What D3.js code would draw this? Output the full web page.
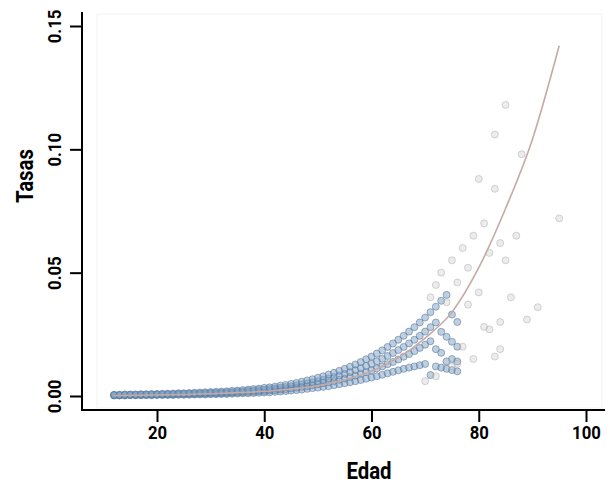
<!DOCTYPE html>
<html>
<head>
<meta charset="utf-8">
<script src="https://cdn.jsdelivr.net/npm/d3@7"></script>
<style>
  body { margin: 0; background: #fff; }
  text { font-family: Roboto, "DejaVu Sans", sans-serif; font-weight: bold; }
</style>
</head>
<body>
<div id="main"></div>
<script>
const ctx = { w: 610, h: 487 };

// ages of the dense band (one value per age in each series)
const bandAges = d3.range(12, 77);
const bandLow = [
  0.0002,0.0002,0.0002,0.0003,0.0003,0.0003,0.0003,0.0003,
  0.0004,0.0004,0.0004,0.0004,0.0005,0.0005,0.0005,0.0006,0.0006,0.0006,
  0.0007,0.0007,0.0008,0.0008,0.0009,0.0010,0.0011,0.0011,0.0012,0.0013,
  0.0014,0.0015,0.0017,0.0018,0.0020,0.0022,0.0024,0.0026,0.0029,0.0032,
  0.0034,0.0037,0.0040,0.0044,0.0048,0.0052,0.0056,0.0060,0.0065,0.0070,
  0.0075,0.0080,0.0086,0.0092,0.0098,0.0104,0.0110,0.0115,0.0120,0.0125,
  0.0130,0.0085,0.0120,0.0115,0.0110,0.0105,0.0100];
const bandMidLow = [
  0.0003,0.0003,0.0003,0.0004,0.0004,0.0004,0.0005,0.0005,
  0.0005,0.0006,0.0006,0.0006,0.0007,0.0007,0.0008,0.0008,0.0009,0.0009,
  0.0010,0.0011,0.0011,0.0012,0.0013,0.0014,0.0015,0.0016,0.0017,0.0019,
  0.0020,0.0022,0.0024,0.0026,0.0028,0.0031,0.0034,0.0037,0.0040,0.0044,
  0.0048,0.0052,0.0056,0.0061,0.0066,0.0071,0.0077,0.0083,0.0090,0.0097,
  0.0104,0.0112,0.0120,0.0129,0.0138,0.0148,0.0159,0.0170,0.0182,0.0195,
  0.0208,0.0222,0.0190,0.0175,0.0140,0.0150,0.0140];
const bandMidHigh = [
  0.0004,0.0004,0.0005,0.0005,0.0005,0.0006,0.0006,0.0006,
  0.0007,0.0007,0.0008,0.0008,0.0009,0.0009,0.0010,0.0010,0.0011,0.0012,
  0.0013,0.0013,0.0014,0.0015,0.0016,0.0018,0.0019,0.0021,0.0022,0.0024,
  0.0026,0.0028,0.0031,0.0033,0.0036,0.0039,0.0043,0.0047,0.0051,0.0055,
  0.0060,0.0065,0.0071,0.0077,0.0083,0.0090,0.0097,0.0105,0.0113,0.0122,
  0.0131,0.0141,0.0151,0.0162,0.0174,0.0186,0.0199,0.0213,0.0228,0.0244,
  0.0261,0.0279,0.0298,0.0260,0.0240,0.0220,0.0200];
const bandHigh = [
  0.0005,0.0005,0.0006,0.0006,0.0006,0.0007,0.0007,0.0008,
  0.0008,0.0009,0.0009,0.0010,0.0011,0.0011,0.0012,0.0013,0.0014,0.0015,
  0.0016,0.0017,0.0018,0.0019,0.0021,0.0022,0.0024,0.0026,0.0028,0.0030,
  0.0033,0.0035,0.0038,0.0042,0.0045,0.0049,0.0053,0.0058,0.0063,0.0068,
  0.0074,0.0080,0.0087,0.0094,0.0102,0.0110,0.0119,0.0128,0.0138,0.0149,
  0.0160,0.0172,0.0185,0.0199,0.0213,0.0228,0.0244,0.0261,0.0279,0.0298,
  0.0318,0.0340,0.0362,0.0386,0.0410,0.0330,0.0300];

// sparse points at older ages
const sparseAges  = [71,72,73,74,75,76,77,77,78,78,79,79,80,80,81,81,82,82,83,83,83,84,84,84,85,85,86,87,88,89,91,95,74,75,76,72,70];
const sparseRates = [0.040,0.045,0.050,0.038,0.055,0.046,0.060,0.020,0.037,0.052,0.015,0.065,0.088,0.042,0.070,0.028,0.027,0.058,0.106,0.016,0.084,0.030,0.019,0.062,0.118,0.055,0.040,0.065,0.098,0.031,0.036,0.072,0.014,0.012,0.013,0.008,0.006];

// fitted curve
const curveAges  = [12,20,30,40,50,55,60,65,70,75,80,85,90,95];
const curveRates = [0.0002,0.0004,0.0009,0.0019,0.0042,0.0065,0.0100,0.0155,0.0235,0.034,0.052,0.076,0.104,0.142];

const xTicks = [20, 40, 60, 80, 100];
const yTicks = [0, 0.05, 0.10, 0.15];

function createViz() {
  const svg = d3.select("#main").append("svg")
      .attr("width", ctx.w).attr("height", ctx.h);

  const x = d3.scaleLinear().domain([20, 100]).range([157, 586]);
  const y = d3.scaleLinear().domain([0, 0.15]).range([396, 26]);

  // faint panel edges
  svg.append("rect")
     .attr("x", 97).attr("y", 14).attr("width", 505).attr("height", 394)
     .attr("fill", "none").attr("stroke", "#f3f3f5");

  const pts = [];
  [bandLow, bandMidLow, bandMidHigh, bandHigh].forEach(s =>
    s.forEach((v, i) => pts.push({age: bandAges[i], rate: v, dense: true})));
  sparseAges.forEach((a, i) => pts.push({age: a, rate: sparseRates[i], dense: false}));

  svg.append("g").selectAll("circle")
     .data(pts).enter().append("circle")
     .attr("cx", d => x(d.age))
     .attr("cy", d => y(d.rate))
     .attr("r", 3.5)
     .attr("fill", d => d.dense ? "#7f9fc2" : "#c8c8cc")
     .attr("fill-opacity", d => d.dense ? 0.5 : 0.35)
     .attr("stroke", d => d.dense ? "#4f7299" : "#9a9aa2")
     .attr("stroke-opacity", d => d.dense ? 0.55 : 0.4)
     .attr("stroke-width", 1);

  const line = d3.line()
     .x((d, i) => x(curveAges[i]))
     .y(d => y(d))
     .curve(d3.curveMonotoneX);
  svg.append("path")
     .attr("d", line(curveRates))
     .attr("fill", "none")
     .attr("stroke", "#c4aaa6")
     .attr("stroke-width", 1.6);

  // axes
  const xAxis = svg.append("g").attr("transform", "translate(0,410)")
     .call(d3.axisBottom(x).tickValues(xTicks).tickSize(12).tickPadding(4));
  const yAxis = svg.append("g").attr("transform", "translate(82,0)")
     .call(d3.axisLeft(y).tickValues(yTicks).tickSize(12).tickFormat(d3.format(".2f")));
  [xAxis, yAxis].forEach(g => {
    g.select(".domain").remove();
    g.selectAll(".tick line").attr("stroke", "#000").attr("stroke-width", 2);
    g.selectAll("text").attr("fill", "#000").attr("font-size", 19)
     .attr("font-family", null);
  });
  xAxis.selectAll(".tick text").attr("transform", "scale(0.88,1)");
  yAxis.selectAll(".tick text")
     .attr("x", null).attr("dy", null)
     .attr("text-anchor", "middle")
     .attr("transform", "translate(-23,0) rotate(-90) scale(0.88,1)")
     .attr("dy", "0.1em");

  svg.append("path")
     .attr("d", "M82,12V410H605")
     .attr("fill", "none").attr("stroke", "#000").attr("stroke-width", 2);

  svg.append("text")
     .attr("transform", "translate(369,479) scale(0.85,1)")
     .attr("text-anchor", "middle").attr("font-size", 24).text("Edad");
  svg.append("text")
     .attr("transform", "translate(33,176) rotate(-90) scale(0.85,1)")
     .attr("text-anchor", "middle").attr("font-size", 24).text("Tasas");
}

createViz();
</script>
</body>
</html>
